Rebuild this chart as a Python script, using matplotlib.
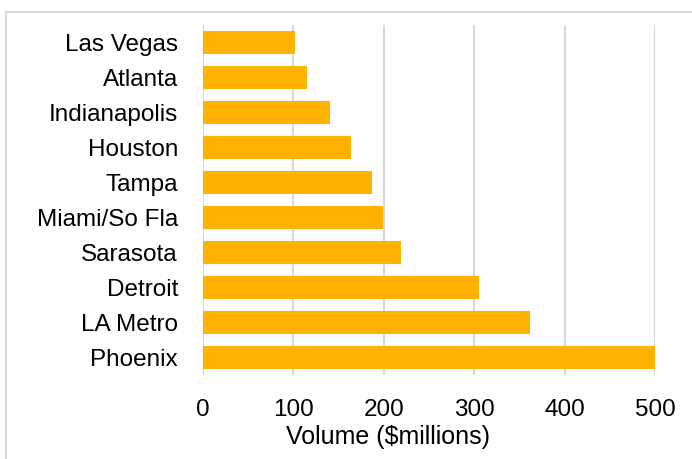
import matplotlib.pyplot as plt
from matplotlib.patches import Rectangle

# Data (top to bottom in the chart)
cities = ["Las Vegas", "Atlanta", "Indianapolis", "Houston", "Tampa",
          "Miami/So Fla", "Sarasota", "Detroit", "LA Metro", "Phoenix"]
volume = [102, 115, 140, 164, 187, 199, 219, 305, 362, 501]
xticks = [0, 100, 200, 300, 400, 500]

plt.rcParams["font.family"] = ["Liberation Sans", "DejaVu Sans"]

W, H = 692, 459
fig = plt.figure(figsize=(W / 100, H / 100), dpi=100)

# light frame around the chart area
fig.patches.append(Rectangle((6 / W, -0.1), 1.2, 1 - 12 / H + 0.1,
                             transform=fig.transFigure, fill=False,
                             edgecolor="#d9d9d9", linewidth=1.5))

ax = fig.add_axes([203 / W, 1 - 375 / H, (655 - 203) / W, 350 / H])

ypos = list(range(len(cities)))
ax.barh(ypos, volume, height=0.68, color="#FFB300", zorder=3)

ax.set_ylim(len(cities) - 0.5, -0.5)
ax.set_xlim(0, 500)
ax.set_yticks(ypos)
ax.set_yticklabels(cities)
ax.set_xticks(xticks)
ax.tick_params(axis="both", length=0, labelsize=17.5, colors="black")
ax.tick_params(axis="x", pad=17)
ax.tick_params(axis="y", pad=18)

ax.grid(axis="x", color="#d9d9d9", linewidth=1.5, zorder=0)
ax.set_axisbelow(True)
for s in ax.spines.values():
    s.set_visible(False)

ax.set_xlabel("Volume ($millions)", fontsize=18)
ax.xaxis.set_label_coords((388 - 203) / (655 - 203), -0.142)

fig.savefig("out.png", dpi=100)
